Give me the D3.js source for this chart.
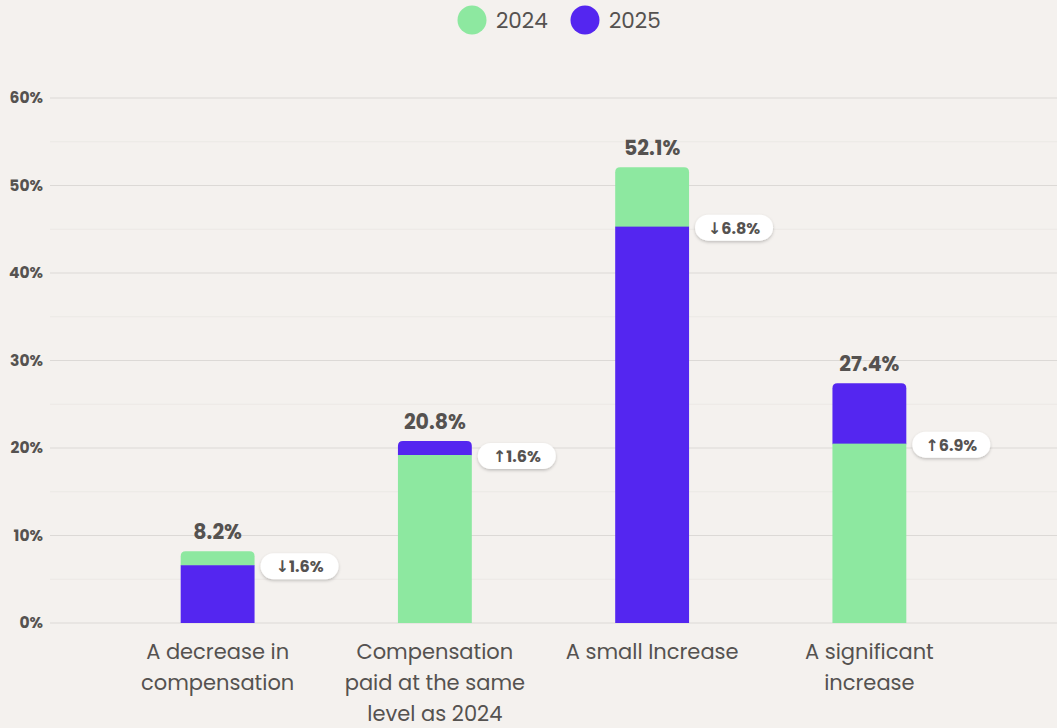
<!DOCTYPE html>
<html>
<head>
<meta charset="utf-8">
<script src="https://cdn.jsdelivr.net/npm/d3@7"></script>
<style>
  html, body { margin: 0; padding: 0; background: #f4f1ee; }
  svg { display: block; font-family: "Poppins", "Open Sans", "Noto Sans", sans-serif; }
</style>
</head>
<body>
<svg id="chart" width="1057" height="728"></svg>
<script>
// Compensation outlook, 2024 vs 2025
const categories = [
  ["A decrease in", "compensation"],
  ["Compensation", "paid at the same", "level as 2024"],
  ["A small Increase"],
  ["A significant", "increase"]
];
const years = ["2024", "2025"];
const values2024 = [8.2, 19.2, 52.1, 20.5];
const values2025 = [6.6, 20.8, 45.3, 27.4];
const changes = [-1.6, 1.6, -6.8, 6.9];
const yTicks = [0, 10, 20, 30, 40, 50, 60];
const yMinorTicks = [5, 15, 25, 35, 45, 55];

const colors = { "2024": "#8de8a0", "2025": "#5426f0" };
const textColor = "#555250";

const svg = d3.select("#chart");
const W = 1057, H = 728;

const x = d3.scaleBand()
  .domain(d3.range(categories.length))
  .range([109, 978])
  .paddingInner(0.66)
  .paddingOuter(0.33);

const y = d3.scaleLinear().domain([0, 60]).range([623, 98]);

// Gridlines
const gridLeft = 50, gridRight = W;
svg.append("g").selectAll("line.minor")
  .data(yMinorTicks).join("line")
  .attr("x1", gridLeft).attr("x2", gridRight)
  .attr("y1", d => y(d)).attr("y2", d => y(d))
  .attr("stroke", "#ebe8e5").attr("stroke-width", 1);

svg.append("g").selectAll("line.major")
  .data(yTicks).join("line")
  .attr("x1", gridLeft).attr("x2", gridRight)
  .attr("y1", d => y(d)).attr("y2", d => y(d))
  .attr("stroke", "#dcd9d6").attr("stroke-width", 1.2);

// Y axis labels
const yAxis = d3.axisLeft(y).tickValues(yTicks).tickFormat(d => d + "%").tickSize(0).tickPadding(0);
const gy = svg.append("g").attr("transform", "translate(43,0)").call(yAxis);
gy.select(".domain").remove();
gy.selectAll("text")
  .attr("fill", textColor)
  .style("font-size", "15.5px")
  .style("font-weight", 700)
  .style("font-family", "\"Poppins\", \"Open Sans\", \"Noto Sans\", sans-serif");

// Bar path with rounded top corners
function topRoundedRect(x0, y0, w, h, r) {
  r = Math.min(r, h, w / 2);
  return `M${x0},${y0 + h}V${y0 + r}Q${x0},${y0} ${x0 + r},${y0}H${x0 + w - r}Q${x0 + w},${y0} ${x0 + w},${y0 + r}V${y0 + h}Z`;
}

const bw = x.bandwidth();
const rows = categories.map((c, i) => {
  const a = values2024[i], b = values2025[i];
  const back = a >= b ? { year: "2024", v: a } : { year: "2025", v: b };
  const front = a >= b ? { year: "2025", v: b } : { year: "2024", v: a };
  return { i, back, front, change: changes[i] };
});

// The taller year shows only above the shorter one, which fills from the baseline
const bars = svg.append("g");
rows.forEach(r => {
  const x0 = x(r.i);
  bars.append("path")
    .attr("d", topRoundedRect(x0, y(r.back.v), bw, y(r.front.v) - y(r.back.v) + 0.5, 5))
    .attr("fill", colors[r.back.year]);
  bars.append("rect")
    .attr("x", x0).attr("y", y(r.front.v))
    .attr("width", bw).attr("height", y(0) - y(r.front.v))
    .attr("fill", colors[r.front.year]);
});

// Value labels on top of each bar
svg.append("g").selectAll("text")
  .data(rows).join("text")
  .attr("x", d => x(d.i) + bw / 2)
  .attr("y", d => y(d.back.v) - 12)
  .attr("text-anchor", "middle")
  .attr("fill", textColor)
  .style("font-size", "20.5px")
  .style("font-weight", 700)
  .text(d => d.back.v.toFixed(1) + "%");

// Change badges
const defs = svg.append("defs");
const f = defs.append("filter").attr("id", "shadow").attr("x", "-20%").attr("y", "-40%").attr("width", "140%").attr("height", "180%");
f.append("feDropShadow").attr("dx", 0).attr("dy", 1.5).attr("stdDeviation", 1.5).attr("flood-color", "#000").attr("flood-opacity", 0.22);

const badges = svg.append("g").selectAll("g")
  .data(rows).join("g")
  .attr("transform", d => `translate(${x(d.i) + bw + 6},${y(d.front.v) + 1})`);

badges.append("rect")
  .attr("x", 0).attr("y", -13)
  .attr("width", 78).attr("height", 26)
  .attr("rx", 13)
  .attr("fill", "#ffffff")
  .attr("filter", "url(#shadow)");

const badgeText = badges.append("text")
  .attr("x", 39).attr("y", 6)
  .attr("text-anchor", "middle")
  .attr("fill", textColor)
  .style("font-size", "16px")
  .style("font-weight", 700);
badgeText.append("tspan")
  .style("font-family", "\"DejaVu Sans\", sans-serif")
  .style("font-weight", 700)
  .style("font-size", "16px")
  .text(d => d.change < 0 ? "\u2193" : "\u2191");
badgeText.append("tspan")
  .text(d => Math.abs(d.change).toFixed(1) + "%");

// Category labels
const catG = svg.append("g").selectAll("text")
  .data(categories).join("text")
  .attr("x", (d, i) => x(i) + bw / 2)
  .attr("y", 659)
  .attr("text-anchor", "middle")
  .attr("fill", textColor)
  .style("font-size", "21px")
  .style("font-weight", 400);
catG.selectAll("tspan")
  .data(d => d).join("tspan")
  .attr("x", function () { return d3.select(this.parentNode).attr("x"); })
  .attr("dy", (d, j) => j === 0 ? 0 : 31)
  .text(d => d);

// Legend
const legend = svg.append("g");
const legendItems = [{ year: "2024", cx: 472 }, { year: "2025", cx: 585 }];
legendItems.forEach(it => {
  legend.append("circle").attr("cx", it.cx).attr("cy", 20).attr("r", 14.5).attr("fill", colors[it.year]);
  legend.append("text")
    .attr("x", it.cx + 24).attr("y", 28)
    .attr("fill", textColor)
    .style("font-size", "21.5px")
    .text(it.year);
});
</script>
</body>
</html>
